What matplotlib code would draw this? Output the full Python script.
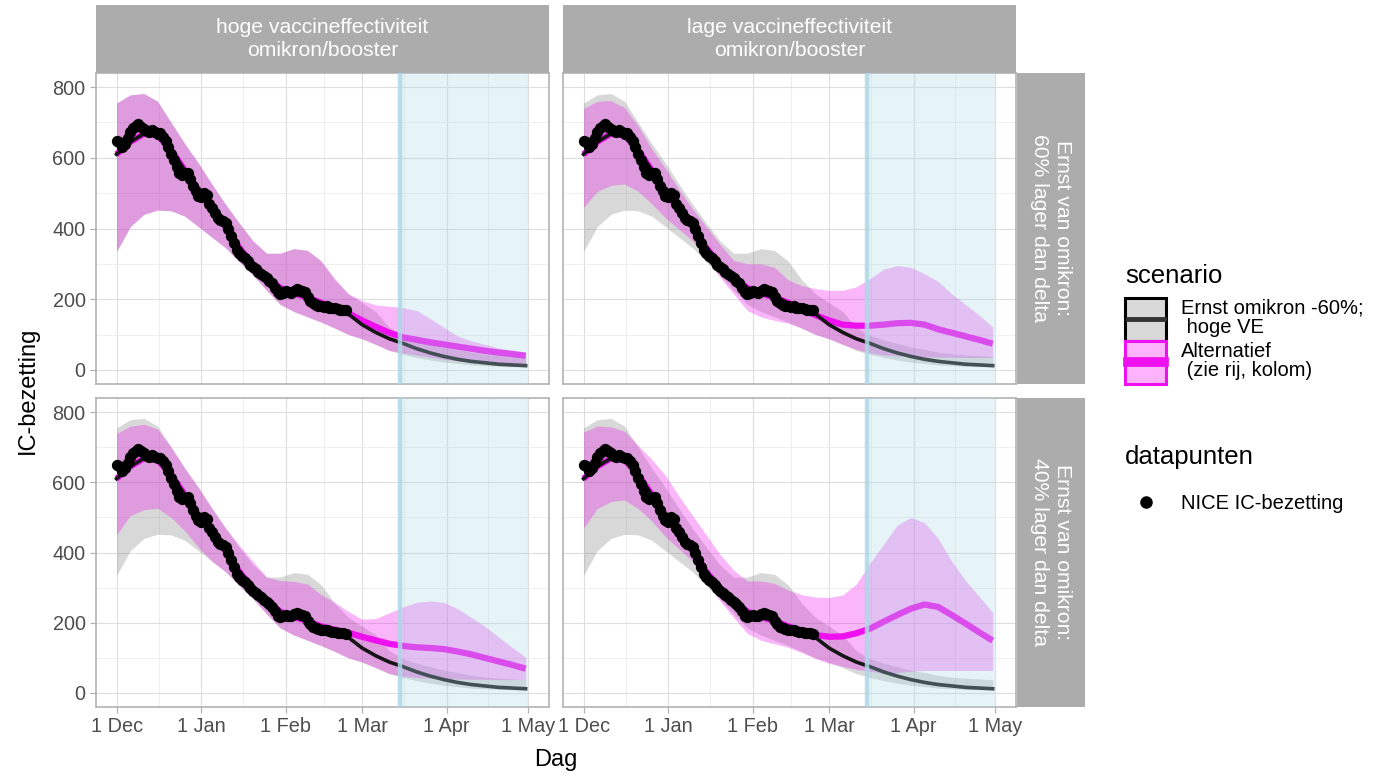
import numpy as np
import pandas as pd
import matplotlib.pyplot as plt
from matplotlib.patches import Rectangle
from matplotlib.lines import Line2D

plt.rcParams['font.family'] = ['Liberation Sans', 'DejaVu Sans']

origin = pd.Timestamp('2021-12-01')

# model output, every 5 days from 1 Dec
model_days = list(range(0, 151, 5))

# reference scenario (Ernst omikron -60%; hoge VE), same in every panel
ref_mid = [610, 645, 668, 664, 622, 565, 505, 455, 405, 345, 298, 262, 232, 216, 205, 190,
           176, 158, 128, 106, 88, 75, 60, 48, 38, 30, 24, 20, 16, 14, 12]
ref_lo = [335, 405, 440, 452, 450, 435, 405, 375, 345, 305, 268, 225, 185, 165, 150, 135,
          118, 100, 88, 72, 55, 44, 35, 28, 22, 18, 14, 12, 10, 9, 8]
ref_hi = [755, 778, 782, 760, 700, 640, 585, 525, 468, 415, 365, 330, 330, 343, 338, 308,
          255, 215, 190, 165, 120, 98, 85, 75, 65, 58, 50, 45, 42, 40, 38]

# alternative scenario per panel
tl_mid = [610, 645, 668, 664, 622, 565, 505, 455, 405, 345, 298, 262, 232, 216, 205, 190,
          176, 160, 140, 122, 105, 92, 85, 78, 72, 66, 60, 54, 49, 45, 40]
tl_lo = [335, 405, 440, 452, 450, 435, 405, 375, 345, 305, 268, 225, 185, 165, 150, 135,
         118, 100, 88, 72, 55, 48, 42, 36, 30, 26, 22, 20, 18, 16, 15]
tl_hi = [755, 778, 782, 760, 700, 640, 585, 525, 468, 415, 365, 330, 330, 343, 338, 308,
         258, 215, 196, 184, 180, 176, 168, 145, 120, 96, 82, 72, 62, 55, 50]

tr_mid = [610, 645, 668, 664, 622, 565, 505, 455, 405, 345, 298, 262, 232, 216, 205, 190,
          172, 155, 140, 128, 125, 125, 128, 132, 133, 128, 115, 105, 95, 85, 74]
tr_lo = [460, 505, 522, 526, 505, 470, 430, 398, 365, 315, 262, 215, 168, 150, 140, 132,
         118, 100, 88, 72, 58, 48, 42, 40, 38, 37, 36, 36, 35, 35, 35]
tr_hi = [740, 760, 762, 742, 690, 625, 570, 510, 455, 405, 355, 310, 300, 300, 290, 255,
         238, 230, 225, 225, 235, 258, 285, 295, 290, 272, 250, 215, 185, 155, 121]

bl_mid = [610, 645, 668, 664, 622, 565, 505, 455, 405, 345, 298, 262, 232, 216, 205, 190,
          180, 172, 160, 150, 140, 134, 130, 128, 125, 118, 110, 100, 90, 80, 69]
bl_lo = [451, 505, 522, 526, 500, 462, 415, 375, 345, 305, 268, 225, 185, 165, 150, 135,
         118, 100, 88, 72, 55, 48, 44, 42, 40, 40, 39, 39, 38, 38, 38]
bl_hi = [739, 760, 765, 752, 700, 640, 585, 526, 470, 420, 375, 330, 320, 318, 310, 280,
         258, 232, 210, 212, 228, 245, 258, 262, 258, 240, 215, 190, 160, 130, 102]

br_mid = [610, 645, 668, 664, 622, 565, 505, 455, 405, 345, 298, 262, 232, 216, 205, 190,
          176, 165, 160, 161, 170, 183, 203, 222, 240, 252, 245, 222, 198, 173, 149]
br_lo = [470, 525, 545, 550, 525, 490, 445, 410, 375, 320, 262, 215, 170, 150, 140, 130,
         115, 98, 84, 76, 67, 62, 56, 58, 62, 64, 64, 64, 64, 64, 64]
br_hi = [743, 760, 758, 745, 705, 665, 620, 560, 505, 450, 395, 350, 319, 319, 312, 293,
         280, 273, 272, 279, 310, 370, 423, 478, 500, 485, 440, 375, 320, 275, 229]

# NICE IC-bezetting, daily from 1 Dec
obs = [648, 645, 632, 640, 655, 672, 684, 690, 695, 688, 682, 676, 672, 678, 672, 668,
       670, 660, 648, 632, 612, 595, 575, 558, 552, 556, 558, 540, 520, 505, 492, 488,
       500, 494, 470, 458, 445, 430, 425, 420, 416, 400, 380, 360, 340, 330, 322, 316,
       308, 298, 290, 284, 278, 272, 265, 260, 252, 246, 232, 220, 215, 218, 222, 220,
       218, 224, 228, 225, 222, 220, 205, 195, 188, 184, 182, 180, 178, 180, 176, 175,
       174, 172, 170, 170, 168]
obs_days = np.arange(len(obs))

tick_dates = ['2021-12-01', '2022-01-01', '2022-02-01', '2022-03-01', '2022-04-01', '2022-05-01']
tick_labels = ['1 Dec', '1 Jan', '1 Feb', '1 Mar', '1 Apr', '1 May']
forecast_from = '2022-03-15'

col_labels = ['hoge vaccineffectiviteit\nomikron/booster', 'lage vaccineffectiviteit\nomikron/booster']
row_labels = ['Ernst van omikron:\n60% lager dan delta', 'Ernst van omikron:\n40% lager dan delta']

panels = [
    (0, 0, tl_mid, tl_lo, tl_hi),
    (0, 1, tr_mid, tr_lo, tr_hi),
    (1, 0, bl_mid, bl_lo, bl_hi),
    (1, 1, br_mid, br_lo, br_hi),
]

tick_days = [(pd.Timestamp(d) - origin).days for d in tick_dates]
minor_days = [(a + b) / 2 for a, b in zip(tick_days[:-1], tick_days[1:])]
fc_start = (pd.Timestamp(forecast_from) - origin).days
fc_end = tick_days[-1]
span = tick_days[-1] - tick_days[0]

magenta = '#EE10EE'
greyband = '#7F7F7F'
strip_col = '#ACACAC'
W, H = 1382, 778


def box(x0, y0, x1, y1):
    return [x0 / W, 1 - y1 / H, (x1 - x0) / W, (y1 - y0) / H]


class KeyHandler:
    # ggplot-like key: filled square with a line through the middle
    def __init__(self, face, edge, line_col, line_w):
        self.face, self.edge, self.line_col, self.line_w = face, edge, line_col, line_w

    def legend_artist(self, legend, orig_handle, fontsize, handlebox):
        x0, y0 = -handlebox.xdescent, -handlebox.ydescent
        w, h = handlebox.width, handlebox.height
        tr = handlebox.get_transform()
        rect = Rectangle((x0, y0), w, h, facecolor=self.face, edgecolor=self.edge,
                         lw=2.2, transform=tr)
        ln = Line2D([x0 + 0.06 * w, x0 + 0.94 * w], [y0 + h / 2, y0 + h / 2],
                    color=self.line_col, lw=self.line_w, transform=tr)
        handlebox.add_artist(rect)
        handlebox.add_artist(ln)
        return rect


fig = plt.figure(figsize=(W / 100, H / 100), dpi=100)

col_x = [(96, 549), (563, 1016)]
row_y = [(73, 384), (398, 707)]

for r, c, mid, lo, hi in panels:
    ax = fig.add_axes(box(col_x[c][0], row_y[r][0], col_x[c][1], row_y[r][1]))
    ax.fill_between(model_days, ref_lo, ref_hi, color=greyband, alpha=0.3, lw=0)
    ax.fill_between(model_days, lo, hi, color=magenta, alpha=0.3, lw=0)
    ax.plot(model_days, mid, color=magenta, lw=4.5, solid_capstyle='butt')
    ax.plot(model_days, ref_mid, color='#151515', lw=2.6)
    ax.scatter(obs_days, obs, s=66, color='black', zorder=4, lw=0)
    ax.axvspan(fc_start, fc_end, color='lightblue', alpha=0.3, lw=0, zorder=5)
    ax.axvline(fc_start, color='lightblue', lw=3.2, alpha=0.85, zorder=5)

    ax.set_xlim(tick_days[0] - 0.05 * span, tick_days[-1] + 0.05 * span)
    ax.set_ylim(-40, 840)
    ax.set_xticks(tick_days)
    ax.set_xticks(minor_days, minor=True)
    ax.set_yticks([0, 200, 400, 600, 800])
    ax.set_yticks([100, 300, 500, 700], minor=True)
    ax.set_xticklabels(tick_labels)
    ax.grid(which='major', color='#DEDEDE', lw=0.8)
    ax.grid(which='minor', color='#EDEDED', lw=0.6)
    ax.set_axisbelow(True)
    for s in ax.spines.values():
        s.set_color('#B3B3B3')
        s.set_linewidth(1.2)
    ax.tick_params(which='major', color='#B3B3B3', length=4, width=0.9,
                   labelcolor='#4D4D4D', labelsize=14.3, pad=3.5)
    ax.tick_params(which='minor', length=0)
    if r == 0:
        ax.tick_params(axis='x', bottom=False, labelbottom=False)
    if c == 1:
        ax.tick_params(axis='y', left=False, labelleft=False)

for c, lab in enumerate(col_labels):
    sa = fig.add_axes(box(col_x[c][0], 5, col_x[c][1], 73))
    sa.set_facecolor(strip_col)
    sa.set_xticks([])
    sa.set_yticks([])
    for s in sa.spines.values():
        s.set_visible(False)
    sa.text(0.5, 0.5, lab, color='white', fontsize=15.2, ha='center', va='center',
            linespacing=1.25, transform=sa.transAxes)

for r, lab in enumerate(row_labels):
    sa = fig.add_axes(box(1017, row_y[r][0], 1085, row_y[r][1]))
    sa.set_facecolor(strip_col)
    sa.set_xticks([])
    sa.set_yticks([])
    for s in sa.spines.values():
        s.set_visible(False)
    sa.text(0.5, 0.5, lab, color='white', fontsize=15.2, ha='center', va='center',
            rotation=-90, linespacing=1.25, transform=sa.transAxes)

fig.text(28 / W, 1 - 390 / H, 'IC-bezetting', rotation=90, fontsize=17, ha='center', va='center')
fig.text(556 / W, 1 - 760 / H, 'Dag', fontsize=17, ha='center', va='center')

h_ref = Rectangle((0, 0), 1, 1)
h_alt = Rectangle((0, 0), 1, 1)
leg1 = fig.legend([h_ref, h_alt], ['Ernst omikron -60%;\n hoge VE', 'Alternatief\n (zie rij, kolom)'],
                  handler_map={h_ref: KeyHandler('#D9D9D9', 'black', '#333333', 3.5),
                               h_alt: KeyHandler('#FFB3FF', magenta, magenta, 7)},
                  title='scenario', loc='upper left', bbox_to_anchor=(1107 / W, 1 - 246 / H),
                  frameon=False, fontsize=14.5, title_fontsize=18.5, handlelength=2.04,
                  handleheight=2.9, labelspacing=0.0, handletextpad=0.75, alignment='left')
leg1._legend_box.sep = 7
for t in leg1.get_texts():
    t.set_linespacing(1.0)

h_obs = Line2D([], [], marker='o', color='black', ls='none', markersize=8)
leg2 = fig.legend([h_obs], ['NICE IC-bezetting'], title='datapunten', loc='upper left',
                  bbox_to_anchor=(1107 / W, 1 - 427 / H), frameon=False, fontsize=14.5,
                  title_fontsize=18.5, handlelength=2.04, handleheight=0.7,
                  handletextpad=0.75, alignment='left')
leg2._legend_box.sep = 18

fig.savefig('out.png', dpi=100)
